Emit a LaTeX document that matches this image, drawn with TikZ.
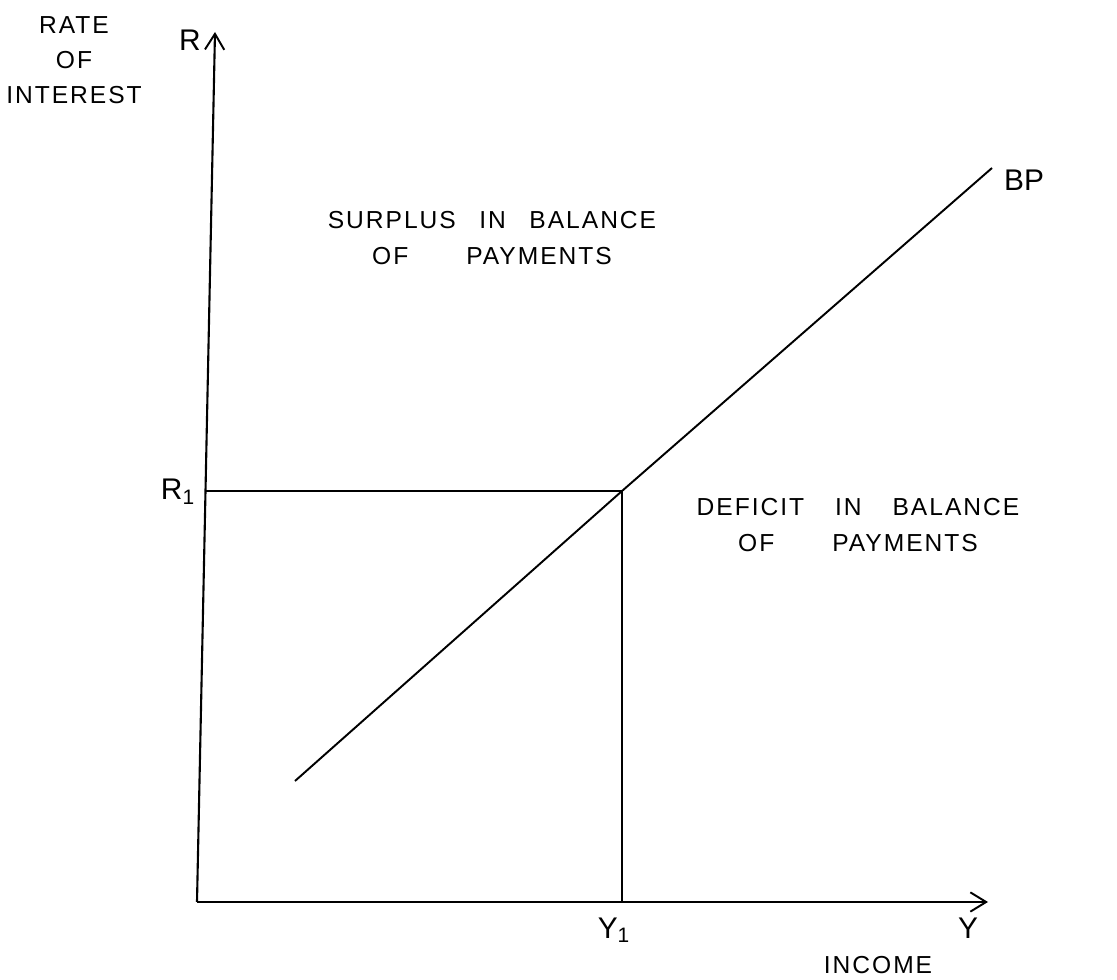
\documentclass[tikz,border=0pt]{standalone}
\usepackage{fontspec}
\setmainfont{Liberation Sans}
\usetikzlibrary{arrows.meta}

\begin{document}
\begin{tikzpicture}[
  x=0.02cm, y=-0.02cm,
  axis/.style={line width=1.2pt, -{Straight Barb[length=9pt, width=11pt, line width=1.1pt]}},
  ln/.style={line width=1.1pt},
  lbl/.style={font=\fontsize{14}{20}\selectfont\addfontfeatures{LetterSpace=8}, align=center, inner sep=1pt},
  tag/.style={font=\fontsize{17}{20}\selectfont, inner sep=1pt}
]
\useasboundingbox (0,0) rectangle (1117,980);
% axes
\coordinate (O)    at (197,902);
\coordinate (Rtop) at (215,32);
\coordinate (Yend) at (988,902);
\draw[axis] (O) -- (Rtop);
\draw[axis] (O) -- (Yend);
% BP curve and equilibrium
\coordinate (Bs) at (295,781);
\coordinate (Be) at (992,168);
\coordinate (E)  at (622,491);
\coordinate (R1p) at (205,491);
\coordinate (Y1p) at (622,902);
\draw[ln] (Bs) -- (E) -- (Be);
\draw[ln] (R1p) -- (E) -- (Y1p);
% labels
\node[tag] (rl)  at (190,40)  {R};
\node[tag] (r1)  at (178,492) {R\textsubscript{1}};
\node[tag] (y1)  at (614,930) {Y\textsubscript{1}};
\node[tag] (yl)  at (968,928) {Y};
\node[tag] (bp)  at (1024,180) {BP};
\node[lbl] (rate) at (74,60) {RATE\\OF\\INTEREST};
\node[lbl] (inc)  at (878,965) {INCOME};
\node[lbl] (sur)  at (492,238) {SURPLUS\hspace{0.6em} IN\hspace{0.6em} BALANCE\\OF\hspace{2em} PAYMENTS};
\node[lbl] (def)  at (858,525) {DEFICIT\hspace{0.9em} IN\hspace{0.9em} BALANCE\\OF\hspace{2em} PAYMENTS};
\end{tikzpicture}
\end{document}
